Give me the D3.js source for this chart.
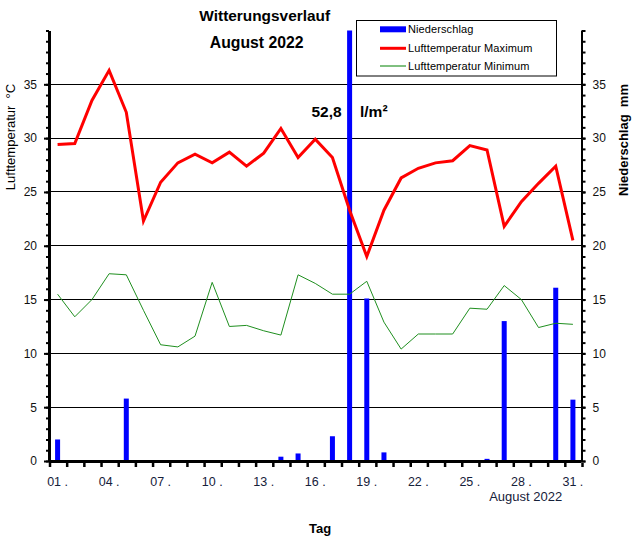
<!DOCTYPE html>
<html><head><meta charset="utf-8">
<script src="https://cdn.jsdelivr.net/npm/d3@7/dist/d3.min.js"></script>
<style>
body{margin:0;background:#fff;}
svg{display:block;font-family:"Liberation Sans",Arial,sans-serif;}
</style></head>
<body><svg id="c" width="634" height="539"></svg>
<script>
const days = d3.range(1, 32);
const tempMax = [29.4,29.5,33.5,36.3,32.4,22.3,25.9,27.7,28.5,27.7,28.7,27.4,28.6,30.9,28.2,29.9,28.2,23.3,19.0,23.3,26.3,27.2,27.7,27.9,29.3,28.9,21.8,24.1,25.8,27.4,20.5];
const tempMin = [15.5,13.4,15.0,17.4,17.3,14.0,10.8,10.6,11.6,16.6,12.5,12.6,12.1,11.7,17.3,16.5,15.5,15.5,16.7,12.9,10.4,11.8,11.8,11.8,14.2,14.1,16.3,15.0,12.4,12.8,12.7];
const precip = [2.0,0,0,0,5.8,0,0,0,0,0,0,0,0,0.4,0.7,0,2.3,52.8,15.1,0.8,0,0,0,0,0,0.2,13.0,0,0,16.1,5.7];
const yTicks = [0,5,10,15,20,25,30,35];
const xTickDays = [1,4,7,10,13,16,19,22,25,28,31];
const legendLabels = ["Niederschlag","Lufttemperatur Maximum","Lufttemperatur Minimum"];
const peakLabel = ["52,8","l/m²"];

const svg = d3.select("#c");
const L = 49, R = 581.5, T = 30.5, B = 461;
const x = d3.scaleBand().domain(days).range([L, R]);
const bw = x.bandwidth();
const cx = d => x(d) + bw / 2;
const y = d3.scaleLinear().domain([0, 40]).range([B, T]).clamp(true);

// gridlines
svg.append("g").selectAll("line").data(yTicks.filter(v => v > 0)).join("line")
  .attr("x1", L).attr("x2", R).attr("y1", d => y(d)).attr("y2", d => y(d))
  .attr("stroke", "#000").attr("stroke-width", 1).attr("shape-rendering","crispEdges");

// bars
svg.append("g").selectAll("rect").data(days.filter((d,i)=>precip[i]>0)).join("rect")
  .attr("x", d => cx(d) - 2.5).attr("width", 5)
  .attr("y", d => y(precip[d-1])).attr("height", d => B - y(precip[d-1]))
  .attr("fill", "#0000ff");

// lines
const line = arr => d3.line().x((d,i) => cx(days[i])).y(d => y(d))(arr);
svg.append("path").attr("d", line(tempMin)).attr("fill","none").attr("stroke","#1f8f1f").attr("stroke-width",1);
svg.append("path").attr("d", line(tempMax)).attr("fill","none").attr("stroke","#ff0000").attr("stroke-width",3).attr("stroke-linejoin","miter");

// left axis
const minorVals = d3.range(0, 41);
const gl = svg.append("g").attr("transform", `translate(${L},0)`);
gl.call(d3.axisLeft(y).tickValues(minorVals).tickSize(3).tickSizeOuter(0).tickFormat(""));
const glM = svg.append("g").attr("transform", `translate(${L},0)`);
glM.call(d3.axisLeft(y).tickValues(yTicks).tickSize(5).tickPadding(7).tickSizeOuter(0));
[gl, glM].forEach(g => { g.selectAll("path").attr("stroke","#000").attr("stroke-width",3); g.selectAll("line").attr("stroke","#000").attr("stroke-width",2); });
glM.selectAll("text").attr("font-size", 12).attr("fill","#111").attr("font-family","Liberation Sans, Arial, sans-serif");

// right axis
const gr = svg.append("g").attr("transform", `translate(${R},0)`);
gr.call(d3.axisRight(y).tickValues(minorVals).tickSize(4).tickSizeOuter(0).tickFormat(""));
const grM = svg.append("g").attr("transform", `translate(${R},0)`);
grM.call(d3.axisRight(y).tickValues(yTicks).tickSize(4).tickPadding(7).tickSizeOuter(0));
[gr, grM].forEach(g => { g.selectAll("path").attr("stroke","#000").attr("stroke-width",2); g.selectAll("line").attr("stroke","#000").attr("stroke-width",2); });
grM.selectAll("text").attr("font-size", 12).attr("fill","#111").attr("font-family","Liberation Sans, Arial, sans-serif");

// x axis
const boundaries = days.map(d => x(d)).concat([R]);
const gx = svg.append("g");
gx.append("line").attr("x1", L).attr("x2", R).attr("y1", B + 0.5).attr("y2", B + 0.5).attr("stroke","#000").attr("stroke-width",3);
gx.selectAll("line.t").data(boundaries).join("line").attr("class","t")
  .attr("x1", d => d + 1).attr("x2", d => d + 1).attr("y1", B + 2).attr("y2", B + 6)
  .attr("stroke","#000").attr("stroke-width",2.5);
gx.selectAll("text").data(xTickDays).join("text")
  .attr("x", d => cx(d)).attr("y", 486).attr("text-anchor","middle")
  .attr("font-size", 12.5).attr("fill","#16213a")
  .text(d => d3.format("02d")(d) + " .");

// titles
svg.append("text").attr("x", 264.7).attr("y", 21).attr("text-anchor","middle").attr("font-size",15.4).attr("font-weight","bold").text("Witterungsverlauf");
svg.append("text").attr("x", 256.7).attr("y", 47.5).attr("text-anchor","middle").attr("font-size",15.8).attr("font-weight","bold").text("August 2022");
svg.append("text").attr("x", 311.5).attr("y", 117).attr("font-size",15.5).attr("font-weight","bold").text(peakLabel[0]);
svg.append("text").attr("x", 360).attr("y", 117).attr("font-size",15.5).attr("font-weight","bold").text(peakLabel[1]);

svg.append("text").attr("transform","translate(15,137) rotate(-90)").attr("text-anchor","middle").attr("font-size",13).attr("fill","#000").style("white-space","pre").text("Lufttemperatur  °C");
svg.append("text").attr("transform","translate(628,140) rotate(-90)").attr("text-anchor","middle").attr("font-size",13).attr("font-weight","bold").style("white-space","pre").text("Niederschlag  mm");
svg.append("text").attr("x", 320).attr("y", 533).attr("text-anchor","middle").attr("font-size",13).attr("font-weight","bold").text("Tag");
svg.append("text").attr("x", 525.7).attr("y", 501).attr("text-anchor","middle").attr("font-size",13).attr("fill","#16213a").text("August 2022");

// legend
const lg = svg.append("g");
lg.append("rect").attr("x", 356.5).attr("y", 20.5).attr("width", 200).attr("height", 55.5).attr("fill","#fff").attr("stroke","#000").attr("stroke-width",1);
const lStyles = [{c:"#0000ff", w:6}, {c:"#ff0000", w:3}, {c:"#008000", w:1}];
const lY = [29.3, 48.3, 66];
legendLabels.forEach((t, i) => {
  lg.append("line").attr("x1", 380).attr("x2", 406).attr("y1", lY[i]).attr("y2", lY[i]).attr("stroke", lStyles[i].c).attr("stroke-width", lStyles[i].w);
  lg.append("text").attr("x", 408).attr("y", lY[i] + 4).attr("font-size", 11).attr("letter-spacing", 0.1).text(t);
});
</script></body></html>
